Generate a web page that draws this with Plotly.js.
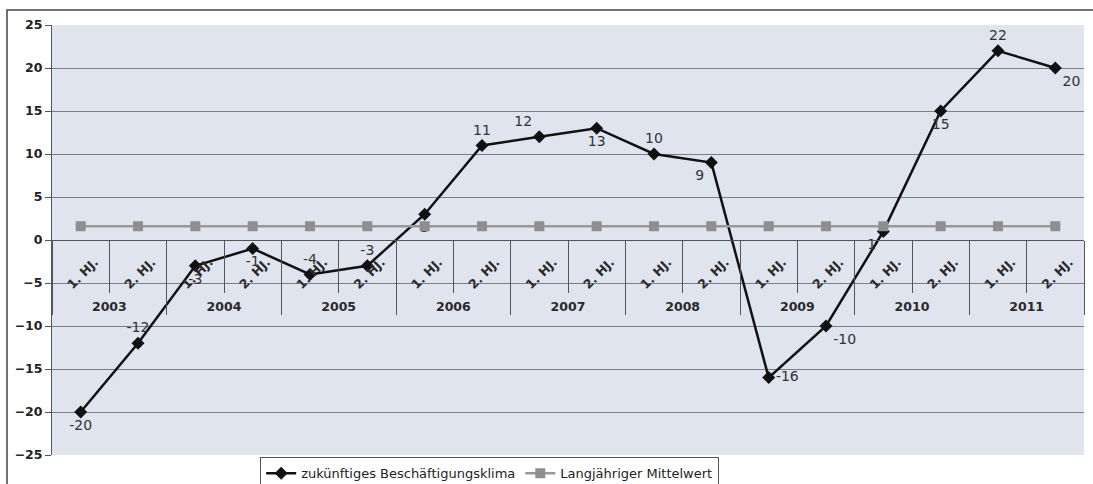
<!DOCTYPE html>
<html>
<head>
<meta charset="utf-8">
<script src="https://cdn.plot.ly/plotly-3.0.1.min.js"></script>
<style>
  html, body { margin: 0; padding: 0; background: #ffffff; }
  #chart { width: 1093px; height: 484px; }
</style>
</head>
<body>
<div id="chart"></div>
<script>
// ---- data ----
const years = ['2003','2004','2005','2006','2007','2008','2009','2010','2011'];
const halfYears = ['1. HJ.', '2. HJ.'];
const klima = [-20, -12, -3, -1, -4, -3, 3, 11, 12, 13, 10, 9, -16, -10, 1, 15, 22, 20];
const mittelwert = [1.6,1.6,1.6,1.6,1.6,1.6,1.6,1.6,1.6,1.6,1.6,1.6,1.6,1.6,1.6,1.6,1.6,1.6];
const seriesNames = ['zukünftiges Beschäftigungsklima', 'Langjähriger Mittelwert'];
const labelPos = [
  'bottom center','top center','bottom center','bottom center','top center','top center',
  'bottom center','top center','top left','bottom center','top center','bottom left',
  'middle right','bottom right','bottom left','bottom center','top center','bottom right'
];

// build multicategory x from arrays
const yearOuter = [];
const halfInner = [];
years.forEach(y => { halfYears.forEach(h => { yearOuter.push(y); halfInner.push(h); }); });
const xCats = [yearOuter, halfInner];

const FONT = 'DejaVu Sans, Verdana, sans-serif';

const traces = [
  {
    type: 'scatter',
    mode: 'lines+markers+text',
    name: seriesNames[0],
    x: xCats,
    y: klima,
    text: klima.map(String),
    textposition: labelPos,
    textfont: { family: FONT, size: 14, color: '#333333' },
    line: { color: '#111111', width: 2.5 },
    marker: { symbol: 'diamond', size: 10, color: '#111111' },
    cliponaxis: false
  },
  {
    type: 'scatter',
    mode: 'lines+markers',
    name: seriesNames[1],
    x: xCats,
    y: mittelwert,
    line: { color: '#999999', width: 2.5 },
    marker: { symbol: 'square', size: 10, color: '#8e8e8e' }
  }
];

const layout = {
  width: 1093,
  height: 484,
  margin: { l: 52, r: 9, t: 25, b: 29 },
  paper_bgcolor: '#ffffff',
  plot_bgcolor: '#e0e4ef',
  font: { family: FONT, color: '#222222' },
  showlegend: true,
  legend: {
    orientation: 'h',
    xref: 'container', yref: 'container',
    x: 0.448, xanchor: 'center',
    y: 0.055, yanchor: 'top',
    bgcolor: '#ffffff',
    bordercolor: '#555555',
    borderwidth: 1,
    font: { family: FONT, size: 13, color: '#222222' },
    traceorder: 'normal',
    itemwidth: 30
  },
  xaxis: {
    type: 'multicategory',
    range: [-0.5, 17.5],
    anchor: 'free',
    position: 0.5,
    showline: true,
    linecolor: '#555555',
    linewidth: 1,
    ticks: 'outside',
    ticklen: 52,
    tickcolor: '#555555',
    tickangle: -45,
    ticklabelstandoff: 9,
    ticklabelshift: 14,
    showdividers: true,
    dividercolor: '#555555',
    dividerwidth: 1,
    showgrid: false,
    zeroline: false,
    tickfont: { family: FONT, size: 12.5, color: '#2a2a2a', weight: 'bold' }
  },
  yaxis: {
    range: [-25, 25],
    dtick: 5,
    tick0: 0,
    showgrid: true,
    gridcolor: '#7a7d86',
    gridwidth: 1,
    zeroline: false,
    showline: true,
    linecolor: '#555555',
    ticks: 'outside',
    ticklen: 6,
    tickcolor: '#555555',
    tickfont: { family: FONT, size: 12.5, color: '#222222', weight: 'bold' }
  },
  shapes: [
    {
      type: 'rect', xref: 'paper', yref: 'paper',
      x0: -0.0436, x1: 1.05, y0: -0.2, y1: 1.0349,
      line: { color: '#444444', width: 1.5 },
      fillcolor: 'rgba(0,0,0,0)',
      layer: 'below'
    }
  ]
};

Plotly.newPlot('chart', traces, layout, { displayModeBar: false, staticPlot: true });
</script>
</body>
</html>
